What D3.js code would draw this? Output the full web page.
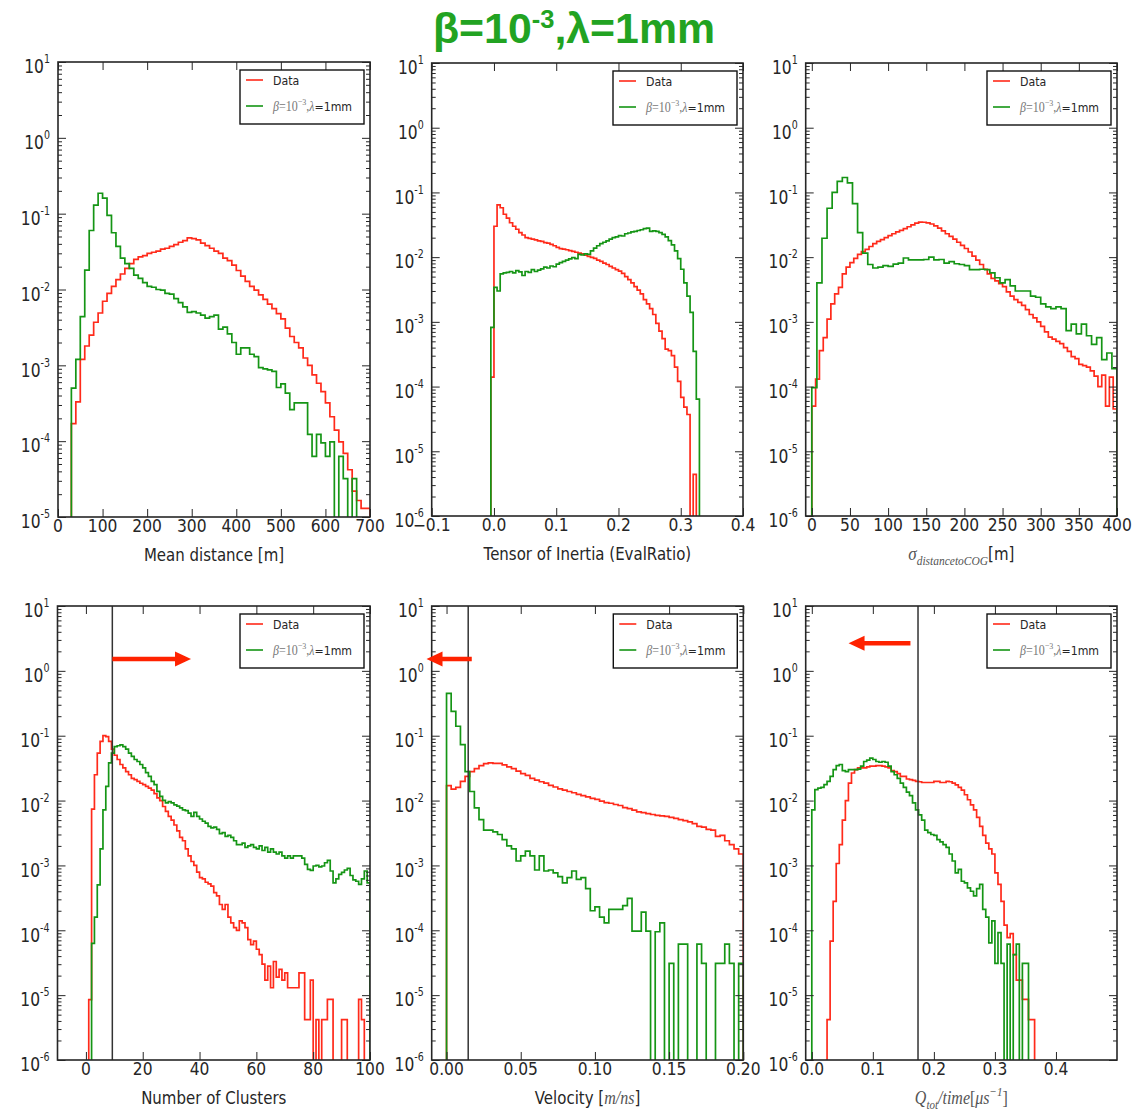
<!DOCTYPE html>
<html><head><meta charset="utf-8">
<script src="https://cdn.jsdelivr.net/npm/d3@7"></script>
<style>body{margin:0;background:#fff}svg{display:block}</style>
</head><body>
<svg id="chart" width="1147" height="1116"></svg>
<script>
// ---------------- DATA ----------------
// Panel 1: Mean distance [m]  (bins start 30, width 10)
const p1Red=[1.7e-4,3.3e-4,1.2e-3,1.8e-3,2.5e-3,3.7e-3,4.9e-3,7.0e-3,8.9e-3,0.011,
0.0135,0.016,0.019,0.022,0.025,0.027,0.028,0.030,0.031,0.032,
0.034,0.035,0.037,0.039,0.042,0.044,0.048,
0.047,0.045,0.041,0.038,0.035,0.032,0.030,0.026,0.024,0.021,
0.0178,0.0150,0.0128,0.0110,0.0098,0.0085,0.0074,0.0064,0.0056,0.0048,
0.0041,0.0031,0.0024,0.0020,0.0017,0.00125,0.00100,0.00075,0.00058,0.00045,
0.00032,0.00021,0.00014,9.8e-5,6.9e-5,4.2e-5,2.2e-5,1.65e-5,1.3e-5,1.3e-5];
const p1Green=[5e-4,1.2e-3,4.4e-3,0.018,0.06,0.13,0.186,0.16,0.095,0.056,
0.037,0.026,0.022,0.019,0.0155,0.014,0.0123,0.011,0.0107,0.0100,
0.0098,0.0089,0.0087,0.0076,0.0067,0.0059,0.0050,0.0051,0.0049,0.0046,
0.0042,0.0044,0.0046,0.0030,0.0032,0.0026,0.0020,0.0014,0.0017,0.0017,
0.0014,0.0013,0.00093,0.00090,0.00087,0.00083,0.00051,0.00057,0.00043,0.00026,
0.00032,0.00032,0.00032,0.000123,0.000063,0.000123,0.000095,0.000063,0.000098,0,
6.3e-5,3.2e-5,0,3.2e-5];
// Panel 2: Tensor of Inertia (bins start -0.005, width 0.005)
const p2Red=[1.4e-4,0.030,0.064,0.058,0.046,0.040,0.034,0.030,0.027,0.024,
0.022,0.020,0.0195,0.019,0.0185,0.0178,0.0175,0.0168,0.0165,0.0158,
0.015,0.0142,0.0135,0.0133,0.013,0.0126,0.0123,0.0119,0.0115,0.0112,
0.0107,0.0103,0.0099,0.0096,0.0090,0.0086,0.0081,0.0077,0.0072,0.0068,
0.0064,0.0061,0.0056,0.0050,0.0045,0.0040,0.0035,0.0031,0.0027,0.0022,
0.0019,0.0016,0.0013,0.00095,0.00072,0.00055,0.00038,0.00036,0.00030,0.00020,
0.00012,6.8e-5,4.8e-5,3.7e-5,0,4.4e-6,0];
const p2Green=[8.2e-4,3.4e-3,3.0e-3,0.0055,0.0057,0.0058,0.0060,0.0057,0.0062,0.0059,
0.0052,0.0060,0.0058,0.0064,0.0060,0.0063,0.0066,0.0070,0.0068,0.0073,
0.0071,0.0078,0.0082,0.0086,0.0090,0.0094,0.0098,0.0095,0.0110,0.0108,
0.0112,0.0110,0.0125,0.0138,0.0150,0.0162,0.0170,0.0178,0.0190,0.0200,
0.0205,0.0215,0.0212,0.0230,0.0236,0.0245,0.0250,0.0258,0.0265,0.0275,
0.0280,0.0250,0.0255,0.0250,0.0240,0.0225,0.0205,0.0180,0.0155,0.0125,
0.0095,0.0065,0.0040,0.0025,0.0014,0.00035,0.000064];
// Panel 3: sigma distance to COG (red: start 0 width 5; green: start 0 width 20/3)
const p3Red=[5e-5,1.3e-4,3.6e-4,5.7e-4,1.1e-3,1.9e-3,2.7e-3,3.4e-3,5.5e-3,7.0e-3,
8.2e-3,9.6e-3,1.1e-2,1.22e-2,1.32e-2,1.46e-2,1.62e-2,1.75e-2,1.86e-2,2.0e-2,
2.15e-2,2.3e-2,2.45e-2,2.6e-2,2.75e-2,2.95e-2,3.15e-2,3.35e-2,3.48e-2,3.46e-2,
3.38e-2,3.25e-2,3.05e-2,2.8e-2,2.55e-2,2.3e-2,2.1e-2,1.9e-2,1.7e-2,1.52e-2,
1.36e-2,1.2e-2,1.04e-2,9.0e-3,7.7e-3,6.5e-3,5.5e-3,4.7e-3,4.3e-3,3.9e-3,
3.5e-3,2.9e-3,2.5e-3,2.2e-3,2.0e-3,1.8e-3,1.55e-3,1.3e-3,1.15e-3,1.0e-3,
8.5e-4,7.0e-4,5.8e-4,5.4e-4,5.0e-4,4.6e-4,4.0e-4,3.5e-4,2.9e-4,2.7e-4,
2.2e-4,2.1e-4,2.0e-4,1.75e-4,1.45e-4,1.0e-4,1.5e-4,5e-5,1.4e-4,4.5e-5];
const p3Green=[9.6e-5,4.0e-3,0.0196,0.057,0.10,0.148,0.17,0.14,0.067,0.024,
0.0115,0.0077,0.0068,0.0070,0.0074,0.0072,0.0078,0.0081,0.0097,0.0091,
0.0091,0.0091,0.0092,0.010,0.0091,0.0092,0.0081,0.0085,0.0079,0.0077,
0.0074,0.0064,0.0064,0.0065,0.0064,0.0057,0.0048,0.0040,0.0045,0.0036,
0.0030,0.0030,0.0030,0.0025,0.0024,0.0019,0.0017,0.0016,0.0017,0.0016,
7.3e-4,9.2e-4,6.5e-4,9.2e-4,6.1e-4,4.5e-4,5.7e-4,2.6e-4,3.3e-4,1.9e-4];
// Panel 4: Number of clusters (red start 1, green start 2, width 1)
const p4Red=[8.5e-6,7.4e-3,0.025,0.054,0.082,0.10,0.097,0.082,0.062,0.050,
0.043,0.036,0.032,0.028,0.025,0.022,0.021,0.0197,0.0185,0.0176,
0.0165,0.0156,0.0145,0.0128,0.011,0.010,0.0081,0.0068,0.0057,0.0050,
0.0042,0.0034,0.0027,0.0024,0.0018,0.0014,0.00115,0.0010,0.00079,0.00065,
0.00062,0.00055,0.00052,0.00048,0.00038,0.00034,0.00025,0.00021,0.00025,0.00016,
0.00013,0.00011,0.00010,0.00014,0.00013,0.00011,7.2e-5,6.0e-5,6.8e-5,5.1e-5,
4.2e-5,3.0e-5,1.7e-5,2.8e-5,1.3e-5,3.3e-5,1.9e-5,2.5e-5,1.7e-5,2.2e-5,
1.3e-5,1.3e-5,1.3e-5,1.3e-5,2.2e-5,2.2e-5,4.2e-6,4.2e-6,1.7e-5,0,
4.2e-6,0,4.2e-6,4.2e-6,8.6e-6,8.6e-6,0,0,0,4.2e-6,
4.2e-6,0,0,0,0,8.6e-6,4.2e-6,0,0];
const p4Green=[6.3e-5,1.6e-4,5.0e-4,1.8e-3,7.2e-3,0.0166,0.038,0.054,0.068,0.070,
0.072,0.068,0.062,0.054,0.048,0.043,0.040,0.036,0.032,0.027,
0.0236,0.0197,0.0176,0.0139,0.0116,0.0101,0.0092,0.0096,0.0092,0.0086,
0.0082,0.0077,0.0072,0.0070,0.0064,0.0057,0.0066,0.0057,0.0052,0.0048,
0.0045,0.0040,0.0038,0.0039,0.0036,0.0031,0.0032,0.0028,0.0029,0.0027,
0.0024,0.0021,0.0021,0.0022,0.0019,0.0020,0.0021,0.0019,0.0018,0.0020,
0.0017,0.0019,0.0016,0.0018,0.0016,0.0015,0.0016,0.0014,0.0013,0.0014,
0.0013,0.0014,0.0014,0.0014,0.0013,0.00104,0.00087,0.00084,0.00098,0.0010,
0.00095,0.00098,0.0011,0.0012,0.00082,0.00054,0.00062,0.00073,0.00078,0.00085,
0.00090,0.00070,0.00060,0.00057,0.00051,0.00062,0.00082,0.00054];
// Panel 5: Velocity (start 0, width 0.003125)
const p5Red=[0.017,0.015,0.016,0.0197,0.0236,0.028,0.031,0.0345,0.037,0.038,
0.0375,0.0375,0.0355,0.033,0.031,0.0285,0.026,0.0245,0.022,0.0207,
0.0195,0.0186,0.0172,0.0162,0.0152,0.0145,0.0138,0.0132,0.0125,0.0119,
0.0114,0.0108,0.0104,0.0098,0.0093,0.0091,0.0087,0.0084,0.0078,0.0075,
0.0071,0.0067,0.0065,0.0063,0.0061,0.0059,0.0058,0.0057,0.0055,0.0053,
0.0051,0.0049,0.0047,0.0044,0.0040,0.0039,0.0036,0.0035,0.0028,0.0029,
0.0024,0.0021,0.0018,0.0015];
const p5Green=[0.45,0.237,0.14,0.073,0.028,0.0138,0.0077,0.0051,0.0035,0.0035,
0.0033,0.0030,0.0025,0.0020,0.0018,0.00117,0.0014,0.00166,0.0014,0.00085,
0.0014,0.00082,0.00085,0.00077,0.00067,0.00054,0.00065,0.00082,0.00061,0.00065,
0.00044,0.00020,0.00023,0.00016,0.00013,0.00021,0.00021,0.00021,0.00024,0.00031,
9.7e-5,9.7e-5,1.9e-4,9.7e-5,0,9.5e-5,1.3e-4,0,3.1e-5,0,
6.1e-5,6.1e-5,0,0,6.1e-5,3.1e-5,0,0,3.1e-5,3.1e-5,
6.1e-5,3.1e-5,0,3.1e-5];
// Panel 6: Qtot/time (red start 0.025, green start 0, width 0.005)
const p6Red=[4.2e-6,6.8e-5,2.8e-4,1.07e-3,2.1e-3,0.0050,0.0100,0.0186,0.0266,0.030,
0.032,0.032,0.032,0.033,0.034,0.034,0.0345,0.0345,0.034,0.033,
0.032,0.029,0.028,0.026,0.0236,0.0236,0.0215,0.021,0.0205,0.0197,
0.0195,0.019,0.019,0.019,0.019,0.0197,0.0197,0.019,0.019,0.0197,
0.0195,0.0186,0.0175,0.016,0.0145,0.0123,0.0103,0.0086,0.0072,0.0055,
0.0040,0.0029,0.0022,0.0018,0.0015,7.7e-4,5.1e-4,2.8e-4,1.2e-4,7.7e-5,
8.9e-5,4.2e-5,1.7e-5,1.7e-5,8.6e-6,8.6e-6,4.2e-6,4.2e-6];
const p6Green=[0.0072,0.0147,0.0156,0.016,0.0176,0.0197,0.0236,0.030,0.0345,0.036,
0.029,0.028,0.030,0.030,0.030,0.0306,0.034,0.040,0.042,0.045,
0.043,0.040,0.039,0.040,0.039,0.034,0.028,0.025,0.022,0.0186,
0.016,0.0135,0.0119,0.0092,0.0072,0.0060,0.0050,0.0035,0.0032,0.0030,
0.0029,0.0025,0.0023,0.0021,0.0019,0.0015,0.00117,0.00077,0.00087,0.00057,
0.00054,0.00045,0.0004,0.00034,0.00044,0.00051,0.00021,0.00016,6.4e-5,1.4e-4,
3.1e-5,9.2e-5,3.1e-5,0,6.1e-5,0,4.2e-5,6.1e-5,0,3.1e-5,
3.1e-5];

// tick values / labels
const p1XTicks=[0,100,200,300,400,500,600,700];
const p1XLabels=["0","100","200","300","400","500","600","700"];
const p2XTicks=[-0.1,0,0.1,0.2,0.3,0.4];
const p2XLabels=["\u22120.1","0.0","0.1","0.2","0.3","0.4"];
const p3XTicks=[0,50,100,150,200,250,300,350,400];
const p3XLabels=["0","50","100","150","200","250","300","350","400"];
const p4XTicks=[0,20,40,60,80,100];
const p4XLabels=["0","20","40","60","80","100"];
const p5XTicks=[0,0.05,0.10,0.15,0.20];
const p5XLabels=["0.00","0.05","0.10","0.15","0.20"];
const p6XTicks=[0,0.1,0.2,0.3,0.4];
const p6XLabels=["0.0","0.1","0.2","0.3","0.4"];
const legendLabels=["Data","\u03b2=10\u207b\u00b3,\u03bb=1mm"];
const cutValues={p4:9.3,p5:0.0146,p6:0.174};

// ---------------- LAYOUT ----------------
const RED="#ff2a1a", GREEN="#159515", INK="#262626";
const SY=1.15;
const panels=[
 {l:58,r:370,t:62,b:517,xd:[0,700],yd:[1e-5,10],xt:p1XTicks,xl:p1XLabels,label:"mean",
  series:[{v:p1Red,s:30,w:10,c:RED},{v:p1Green,s:30,w:10,c:GREEN}]},
 {l:431.7,r:743,t:63,b:516,xd:[-0.1,0.4],yd:[1e-6,10],xt:p2XTicks,xl:p2XLabels,label:"tensor",
  series:[{v:p2Red,s:-0.005,w:0.005,c:RED},{v:p2Green,s:-0.005,w:0.005,c:GREEN}]},
 {l:805.7,r:1117,t:63,b:516,xd:[-8,400],yd:[1e-6,10],xt:p3XTicks,xl:p3XLabels,label:"sigma",
  series:[{v:p3Red,s:0,w:5,c:RED},{v:p3Green,s:0,w:20/3,c:GREEN}]},
 {l:57.5,r:370,t:606,b:1060,xd:[-10,100],yd:[1e-6,10],xt:p4XTicks,xl:p4XLabels,label:"nclus",
  series:[{v:p4Red,s:1,w:1,c:RED},{v:p4Green,s:2,w:1,c:GREEN}],
  cut:cutValues.p4, arrow:{from:9.3,to:37,y:1.52}},
 {l:431.7,r:743.3,t:606,b:1060,xd:[-0.01,0.2],yd:[1e-6,10],xt:p5XTicks,xl:p5XLabels,label:"vel",
  series:[{v:p5Red,s:0,w:0.003125,c:RED},{v:p5Green,s:0,w:0.003125,c:GREEN}],
  cut:cutValues.p5, arrow:{from:0.017,to:-0.0135,y:1.52}},
 {l:805.7,r:1117,t:606,b:1060,xd:[-0.01,0.5],yd:[1e-6,10],xt:p6XTicks,xl:p6XLabels,label:"qtot",
  series:[{v:p6Red,s:0.025,w:0.005,c:RED},{v:p6Green,s:0,w:0.005,c:GREEN}],
  cut:cutValues.p6, arrow:{from:0.1616,to:0.0602,y:2.66}}
];

const svg=d3.select("#chart");
svg.append("rect").attr("width",1147).attr("height",1116).attr("fill","#fff");

function stext(parent,x,y,sx,sy){
  return parent.append("text").attr("transform",`translate(${x},${y}) scale(${sx},${sy})`);
}

// Title
{
  const t=stext(svg,574,43,1.02,1.03).attr("text-anchor","middle")
    .attr("font-family","Liberation Sans, Arial, sans-serif").attr("font-weight","bold")
    .attr("font-size",42).attr("fill","#22a322");
  t.append("tspan").text("\u03b2=10");
  t.append("tspan").attr("font-size",25).attr("dy",-15).text("-3");
  t.append("tspan").attr("dy",15).text(",\u03bb=1mm");
}

panels.forEach((P,pi)=>{
  const w=P.r-P.l, h=P.b-P.t;
  const g=svg.append("g").attr("transform",`translate(${P.l},${P.t})`);
  const x=d3.scaleLinear().domain(P.xd).range([0,w]);
  const y=d3.scaleLog().domain(P.yd).range([h,0]);
  const cid="clip"+pi;
  g.append("clipPath").attr("id",cid).append("rect").attr("width",w).attr("height",h);
  const plot=g.append("g").attr("clip-path",`url(#${cid})`);

  // step histograms
  P.series.forEach(S=>{
    const yv=v=>v>0?y(v):h+6;
    const pts=[[x(S.s),h+6]];
    S.v.forEach((v,i)=>{
      pts.push([x(S.s+i*S.w),yv(v)],[x(S.s+(i+1)*S.w),yv(v)]);
    });
    pts.push([x(S.s+S.v.length*S.w),h+6]);
    plot.append("path").attr("d",d3.line()(pts)).attr("fill","none")
      .attr("stroke",S.c).attr("stroke-width",1.7).attr("stroke-linejoin","miter");
  });

  // cut line
  if(P.cut!==undefined){
    g.append("line").attr("x1",x(P.cut)).attr("x2",x(P.cut)).attr("y1",0).attr("y2",h)
      .attr("stroke","#333").attr("stroke-width",1.5);
  }

  // axes (inward ticks)
  const decades=d3.range(Math.round(Math.log10(P.yd[0])),Math.round(Math.log10(P.yd[1]))+1).map(e=>Math.pow(10,e));
  const minors=[];
  decades.slice(0,-1).forEach(d=>{for(let k=2;k<10;k++)minors.push(d*k);});
  const axStyle=sel=>{sel.select(".domain").remove();sel.selectAll("line").attr("stroke",INK).attr("stroke-width",1);sel.selectAll("text").remove();};
  g.append("g").attr("transform",`translate(0,${h})`).call(d3.axisBottom(x).tickValues(P.xt).tickSize(-8)).call(axStyle);
  g.append("g").call(d3.axisTop(x).tickValues(P.xt).tickSize(-8)).call(axStyle);
  g.append("g").call(d3.axisLeft(y).tickValues(decades).tickSize(-8)).call(axStyle);
  g.append("g").attr("transform",`translate(${w},0)`).call(d3.axisRight(y).tickValues(decades).tickSize(-8)).call(axStyle);
  g.append("g").call(d3.axisLeft(y).tickValues(minors).tickSize(-4)).call(axStyle);
  g.append("g").attr("transform",`translate(${w},0)`).call(d3.axisRight(y).tickValues(minors).tickSize(-4)).call(axStyle);

  // frame
  g.append("rect").attr("width",w).attr("height",h).attr("fill","none").attr("stroke",INK).attr("stroke-width",1.6);

  // y tick labels
  decades.forEach(d=>{
    const e=Math.round(Math.log10(d));
    const t=stext(g,-8,y(d),1,1.3).attr("text-anchor","end").attr("font-family","DejaVu Sans")
      .attr("font-size",15.5).attr("fill",INK);
    t.append("tspan").attr("y",8.7).text("10");
    t.append("tspan").attr("font-size",9.5).attr("dy",-7.7).text(e<0?"-"+(-e):String(e));
  });
  // x tick labels
  P.xt.forEach((v,i)=>{
    stext(g,x(v),h+14.5,1,1.08).attr("text-anchor","middle").attr("font-family","DejaVu Sans")
      .attr("font-size",15.5).attr("fill",INK).text(P.xl[i]);
  });

  // x axis label
  const lx=w/2, ly=h+44;
  const SANS="DejaVu Sans", SERIF="Liberation Serif, DejaVu Serif, serif";
  const lab=stext(g,lx,ly,1,SY).attr("text-anchor","middle").attr("font-family",SANS)
    .attr("font-size",15).attr("fill",INK);
  if(P.label==="mean") lab.text("Mean distance [m]");
  if(P.label==="tensor") lab.text("Tensor of Inertia (EvalRatio)");
  if(P.label==="nclus") lab.text("Number of Clusters");
  if(P.label==="sigma"){
    lab.append("tspan").attr("font-family",SERIF).attr("font-style","italic").attr("font-size",17).attr("fill","#555").text("\u03c3");
    lab.append("tspan").attr("font-family",SERIF).attr("font-style","italic").attr("font-size",11.5).attr("fill","#555").attr("dy",4).text("distancetoCOG");
    lab.append("tspan").attr("dy",-4).text("[m]");
  }
  if(P.label==="vel"){
    lab.append("tspan").text("Velocity [");
    lab.append("tspan").attr("font-family",SERIF).attr("font-style","italic").attr("font-size",16).attr("fill","#555").text("m/ns");
    lab.append("tspan").text("]");
  }
  if(P.label==="qtot"){
    const it=s=>lab.append("tspan").attr("font-family",SERIF).attr("font-style","italic").attr("font-size",16).attr("fill","#555").text(s);
    it("Q");
    lab.append("tspan").attr("font-family",SERIF).attr("font-style","italic").attr("font-size",11).attr("fill","#555").attr("dy",4).text("tot");
    it("/time").attr("dy",-4);
    lab.append("tspan").attr("font-family",SERIF).attr("font-size",16).attr("fill","#555").text("[");
    it("\u03bcs");
    lab.append("tspan").attr("font-family",SERIF).attr("font-style","italic").attr("font-size",11).attr("fill","#555").attr("dy",-7).text("\u22121");
    lab.append("tspan").attr("font-family",SERIF).attr("font-size",16).attr("fill","#555").attr("dy",7).text("]");
  }

  // arrow annotation
  if(P.arrow){
    const A=P.arrow, x0=x(A.from), x1=x(A.to), yy=y(A.y);
    const s=Math.sign(x1-x0), hl=16, hw=7.5, sw=2.2, xs=x1-s*hl;
    const pts=[[x0,yy-sw],[xs,yy-sw],[xs,yy-hw],[x1,yy],[xs,yy+hw],[xs,yy+sw],[x0,yy+sw]];
    g.append("path").attr("d",d3.line()(pts)+"Z").attr("fill","#ff2200").attr("stroke","none");
  }

  // legend
  const bx=w-130, by=8, bw=124, bh=54;
  const lg=g.append("g");
  lg.append("rect").attr("x",bx).attr("y",by).attr("width",bw).attr("height",bh)
    .attr("fill","#fff").attr("stroke","#111").attr("stroke-width",1.4);
  lg.append("line").attr("x1",bx+6).attr("x2",bx+23).attr("y1",by+10).attr("y2",by+10).attr("stroke",RED).attr("stroke-width",1.6);
  lg.append("line").attr("x1",bx+6).attr("x2",bx+23).attr("y1",by+36).attr("y2",by+36).attr("stroke",GREEN).attr("stroke-width",1.6);
  stext(lg,bx+33,by+15,1,SY).attr("font-family","DejaVu Sans").attr("font-size",11).attr("fill",INK).text(legendLabels[0]);
  const gl=stext(lg,bx+33,by+41,1,SY).attr("font-family","DejaVu Sans").attr("font-size",11).attr("fill",INK);
  const SER="Liberation Serif, DejaVu Serif, serif";
  gl.append("tspan").attr("font-family",SER).attr("font-style","italic").attr("font-size",12).attr("fill","#777").text("\u03b2");
  gl.append("tspan").attr("font-family",SER).attr("font-size",12).attr("fill","#777").text("=10");
  gl.append("tspan").attr("font-family",SER).attr("font-size",8).attr("fill","#777").attr("dy",-5).text("\u22123");
  gl.append("tspan").attr("font-family",SER).attr("font-size",12).attr("fill","#777").attr("dy",5).text(",");
  gl.append("tspan").attr("font-family",SER).attr("font-style","italic").attr("font-size",12).attr("fill","#777").text("\u03bb");
  gl.append("tspan").text("=1mm");
});
</script>
</body></html>
